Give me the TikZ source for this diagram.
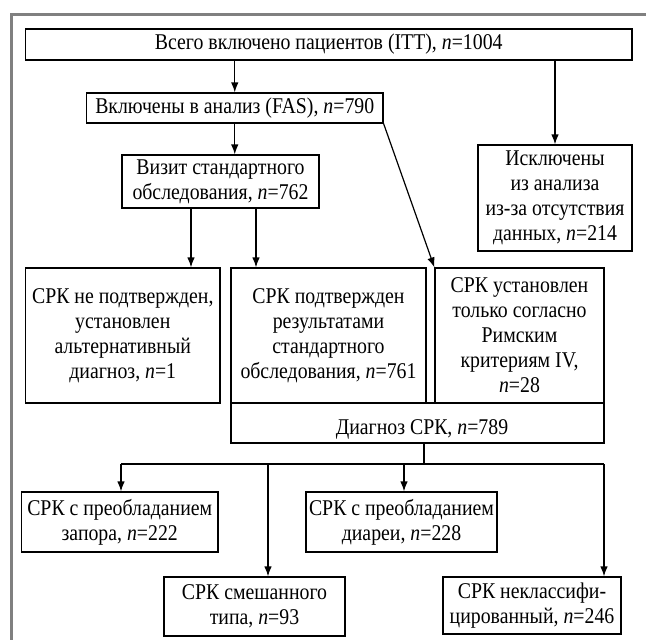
\documentclass[tikz,border=0pt]{standalone}
\usepackage{fontspec}
\setmainfont{Liberation Serif}[FakeStretch=0.88]
\usetikzlibrary{arrows.meta}
\begin{document}
\begin{tikzpicture}[x=1pt,y=-1pt,
  txt/.style={inner sep=0pt,align=center,font=\fontsize{22.5}{25}\selectfont},
  box/.style={txt,draw=black,line width=1.2pt},
  arr/.style={line width=1.2pt,-{Latex[length=10pt,width=7.5pt]}},
  ln/.style={line width=1.2pt}]
\useasboundingbox (0,0) rectangle (646,640);
\draw[black!50,line width=3pt] (11,641) -- (11,14) -- (647,14);
% boxes
\node[box,minimum width=606.5pt,minimum height=31pt] (itt) at (328.75,44.5) {Всего включено пациентов (ITT), \textit{n}=1004};
\node[box,minimum width=296.5pt,minimum height=30pt] (fas) at (234.75,108) {Включены в анализ (FAS), \textit{n}=790};
\node[box,minimum width=197pt,minimum height=53pt] (visit) at (220.5,181.5) {Визит стандартного\\обследования, \textit{n}=762};
\node[box,minimum width=154pt,minimum height=106pt] (excl) at (555,198) {Исключены\\из анализа\\из-за отсутствия\\данных, \textit{n}=214};
\node[box,minimum width=194.5pt,minimum height=135pt] (b1) at (122.75,335.5) {СРК не подтвержден,\\установлен\\альтернативный\\диагноз, \textit{n}=1};
\node[box,minimum width=195pt,minimum height=135pt] (b2) at (328.5,335.5) {СРК подтвержден\\результатами\\стандартного\\обследования, \textit{n}=761};
\node[box,minimum width=169pt,minimum height=135pt] (b3) at (519.5,335.5) {СРК установлен\\только согласно\\Римским\\критериям IV,\\\textit{n}=28};
\node[box,minimum width=373pt,minimum height=40pt] (diag) at (417.5,423) {};
\node[txt] (diagt) at (422,429) {Диагноз СРК, \textit{n}=789};
\node[box,minimum width=196.5pt,minimum height=60pt] (A) at (119.75,522) {СРК с преобладанием\\запора, \textit{n}=222};
\node[box,minimum width=191pt,minimum height=60pt] (C) at (401.5,522) {СРК с преобладанием\\диареи, \textit{n}=228};
\node[box,minimum width=181pt,minimum height=59pt] (B) at (254.5,606.5) {СРК смешанного\\типа, \textit{n}=93};
\node[box,minimum width=178pt,minimum height=57pt] (D) at (532,605.5) {СРК неклассифи-\\цированный, \textit{n}=246};
% connectors
\draw[arr] (fas.north |- itt.south) -- (fas.north);
\draw[arr] (excl.north |- itt.south) -- (excl.north);
\draw[arr] (fas.south) -- (fas.south |- visit.north);
\draw[arr] (fas.south east) -- (b3.north west);
\draw[arr] ([xshift=-29.5pt]visit.south) -- ([xshift=-29.5pt]visit.south |- b1.north);
\draw[arr] ([xshift=35.5pt]visit.south) -- ([xshift=35.5pt]visit.south |- b2.north);
\coordinate (bus) at (424,464);
\coordinate (busL) at (121,464);
\coordinate (busB) at (268,464);
\coordinate (busC) at (404,464);
\coordinate (busR) at (604,464);
\draw[ln] (bus |- diag.south) -- (bus);
\draw[ln] (busL) -- (busR);
\draw[arr] (busL) -- (busL |- A.north);
\draw[arr] (busB) -- (busB |- B.north);
\draw[arr] (busC) -- (busC |- C.north);
\draw[arr] (busR) -- (busR |- D.north);
\end{tikzpicture}
\end{document}
